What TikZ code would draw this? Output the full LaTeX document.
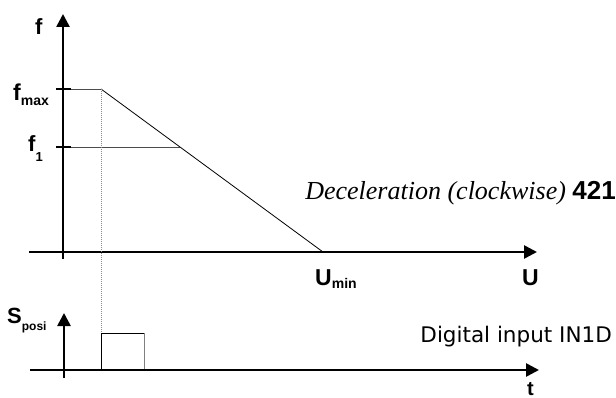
\documentclass[tikz,border=0pt]{standalone}
\usepackage{fontspec}
\setmainfont{Liberation Serif}
\setsansfont{Liberation Sans}
\newfontfamily\digfont{DejaVu Sans}
\usetikzlibrary{arrows.meta,positioning}

\tikzset{
  axis/.style={line width=2.6pt,-{Triangle[length=13pt,width=13pt]}},
  tick/.style={line width=2.6pt},
  thinline/.style={line width=.8pt},
  lbl/.style={font=\sffamily\bfseries,inner sep=0pt,anchor=base west},
}
\newcommand{\fsz}[1]{\fontsize{#1}{#1}\selectfont}

\begin{document}
\begin{tikzpicture}[x=1pt,y=-1pt]
\useasboundingbox (0,0) rectangle (616,398);
% f over U
\coordinate (fbot) at (63,259);
\coordinate (ftop) at (63,14);
\coordinate (uleft) at (29,252);
\coordinate (uright) at (537,252);
\coordinate (fmax0) at (56,89);\coordinate (fmax1) at (71,89);
\coordinate (fone0) at (56,147);\coordinate (fone1) at (71,147);
\coordinate (knee) at (101,89);
\coordinate (cross) at (180,147);
\coordinate (umin) at (323,252);
\draw[thinline,black!70] (fmax1)--(knee);
\draw[thinline,black!70] (fone1)--(cross);
\draw[thinline] (knee)--(umin);
\draw[axis] (uleft)--(uright);
\draw[axis] (fbot)--(ftop);
\draw[tick] (fmax0)--(fmax1);
\draw[tick] (fone0)--(fone1);
% S over t
\coordinate (sbot) at (64,378);
\coordinate (stop) at (64,313);
\coordinate (tleft) at (30,370);
\coordinate (tright) at (539,370);
\coordinate (p0) at (101,370);
\coordinate (p1) at (101,333);
\coordinate (p2) at (144,333);
\coordinate (p3) at (144,370);
\draw[line width=.7pt,black!45,dash pattern=on 1pt off 1pt] (knee)--(p1);
\draw[thinline] (p0)--(p1)--(p2);
\draw[thinline,black!50] (p2)--(p3);
\draw[axis] (tleft)--(tright);
\draw[axis] (sbot)--(stop);
% labels
\node[lbl] (lf) at (35,35) {\fsz{22}f};
\node[lbl] (lfmax) at (13,101) {\fsz{23}f\raisebox{-5pt}{\fsz{14}max}};
\node[lbl] (lfone) at (28,152) {\fsz{22}f\raisebox{-10pt}{\fsz{13}1}};
\node[lbl] (lumin) at (315,286) {\fsz{23}U\raisebox{-2pt}{\fsz{14}min}};
\node[lbl] (lu) at (522,286) {\fsz{23}U};
\node[lbl] (lsposi) at (7,323) {\fsz{22}S\raisebox{-8pt}{\fsz{12}posi}};
\node[lbl] (lt) at (527,395) {\fsz{20}t};
\node[inner sep=0pt,anchor=base east] (ldec) at (616,200)
  {\fsz{26}\itshape Deceleration (clockwise) \sffamily\bfseries\upshape 421};
\node[inner sep=0pt,anchor=base east,font=\digfont\fsz{21.5}] (ldig) at (612,342) {Digital input IN1D};
\end{tikzpicture}
\end{document}
